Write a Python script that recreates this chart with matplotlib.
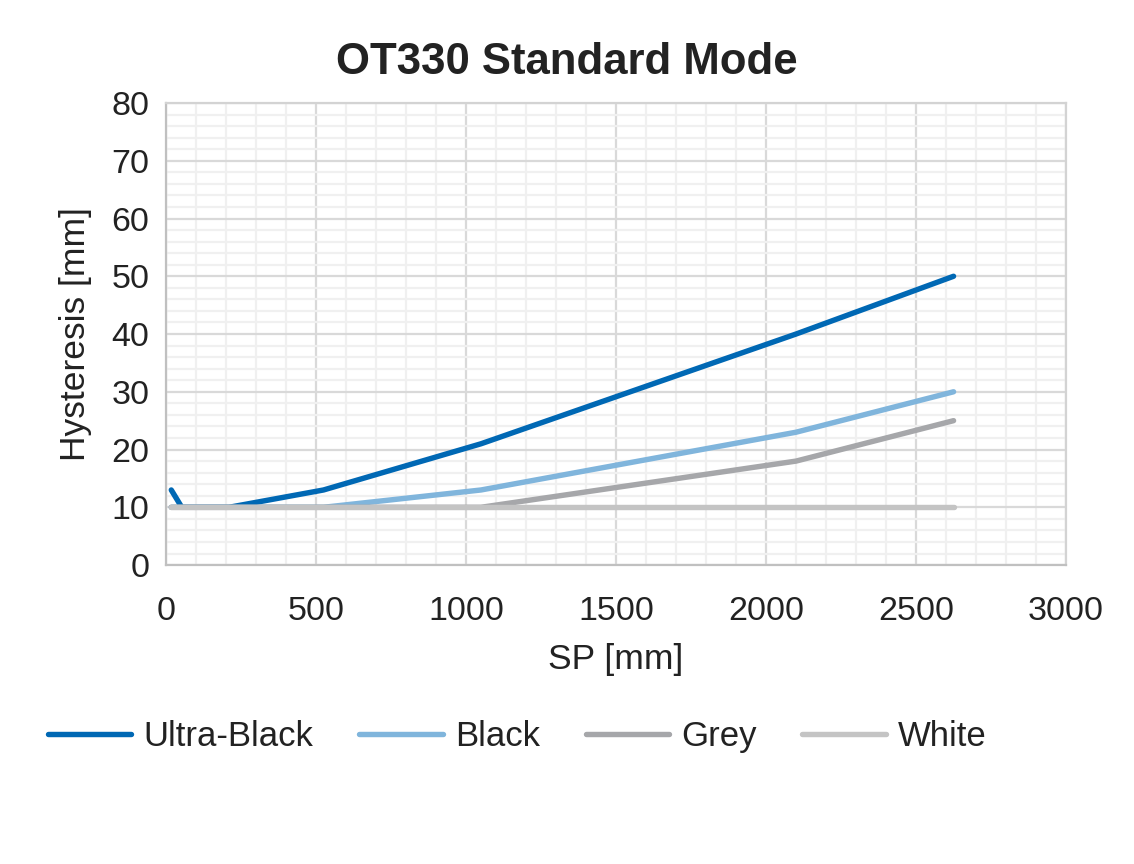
import numpy as np
import matplotlib
matplotlib.use('Agg')
import matplotlib.pyplot as plt
from matplotlib.ticker import MultipleLocator

# SP points [mm], shared by all series
sp = [17.5, 52.5, 210, 525, 1050, 2100, 2625]

# hysteresis [mm] per target colour
ultra_black = [13, 10, 10, 13, 21, 40, 50]
black = [10, 10, 10, 10, 13, 23, 30]
grey = [10, 10, 10, 10, 10, 18, 25]
white = [10, 10, 10, 10, 10, 10, 10]

series_names = ['Ultra-Black', 'Black', 'Grey', 'White']
series_colors = ['#0068b4', '#80b5dc', '#a6a7aa', '#c4c4c4']

plt.rcParams['font.family'] = ['Liberation Sans', 'DejaVu Sans']

fig = plt.figure(figsize=(11.34, 8.64), dpi=100)
ax = fig.add_axes([0.1464, 0.346, 0.7937, 0.5348])

for vals, name, col in zip([ultra_black, black, grey, white], series_names, series_colors):
  ax.plot(sp, vals, color=col, lw=3.9, label=name, solid_capstyle='round', zorder=3)

ax.set_xlim(0, 3000)
ax.set_ylim(0, 80)
ax.xaxis.set_major_locator(MultipleLocator(500))
ax.xaxis.set_minor_locator(MultipleLocator(100))
ax.yaxis.set_major_locator(MultipleLocator(10))
ax.yaxis.set_minor_locator(MultipleLocator(2))

# excel style grid
ax.grid(which='major', color='#d9d9d9', lw=1.6, zorder=1)
ax.grid(which='minor', color='#f0f0f0', lw=1.6, zorder=0)
ax.set_axisbelow(True)
for side in ['left', 'bottom', 'top', 'right']:
  ax.spines[side].set_color('#d3d3d3')
  ax.spines[side].set_linewidth(1.6)
ax.spines['left'].set_color('#c0c0c0')
ax.spines['bottom'].set_color('#c0c0c0')

ax.tick_params(which='both', length=0, labelsize=24.5, colors='#222222')
ax.tick_params(axis='x', pad=22)
ax.tick_params(axis='y', pad=12)

ax.set_xlabel('SP [mm]', fontsize=25.5, color='#222222', labelpad=12)
ax.set_ylabel('Hysteresis [mm]', fontsize=25.5, color='#222222', labelpad=14)

fig.text(0.5, 0.928, 'OT330 Standard Mode', ha='center', va='center',
         fontsize=31.5, fontweight='bold', color='#222222')

fig.legend(loc='center', bbox_to_anchor=(0.4563, 0.147), ncol=4, frameon=False,
           fontsize=25, handlelength=2.4, handletextpad=0.35, columnspacing=1.32,
           labelcolor='#222222')

fig.savefig('out.png', dpi=100)
